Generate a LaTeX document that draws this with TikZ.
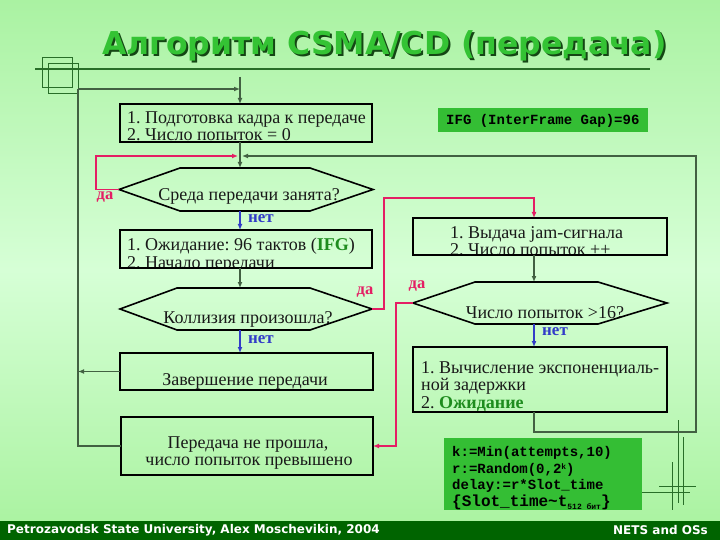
\documentclass[tikz,border=0pt]{standalone}
\usepackage{fontspec}
\setmainfont{Liberation Serif}
\setmonofont{Liberation Mono}
\newfontfamily\titlefont{DejaVu Sans}
\usetikzlibrary{arrows.meta,calc}
\definecolor{bgtop}{RGB}{170,242,162}
\definecolor{bgmid}{RGB}{214,255,214}
\definecolor{bgbot}{RGB}{168,242,158}
\definecolor{footg}{RGB}{0,100,0}
\definecolor{boxg}{RGB}{52,190,52}
\definecolor{connc}{RGB}{66,96,66}
\definecolor{redc}{RGB}{228,30,100}
\definecolor{bluec}{RGB}{50,60,200}
\definecolor{greent}{RGB}{30,140,30}
\definecolor{titleg}{RGB}{52,195,52}
\definecolor{shadowg}{RGB}{20,70,20}
\definecolor{decog}{RGB}{40,110,40}
\definecolor{txt}{RGB}{25,25,25}
\frenchspacing
\newcommand{\titletext}{Алгоритм CSMA/CD (передача)}
\begin{document}
\begin{tikzpicture}[x=1pt,y=-1pt,
  geom/.style={inner sep=0pt,outer sep=0pt,draw=none},
  boxline/.style={draw=black,line width=1.6pt},
  hexline/.style={draw=black,line width=1.6pt,line join=miter},
  conn/.style={draw=connc,line width=1.3pt},
  tip/.style={-{Latex[length=6pt,width=5pt]}},
  redln/.style={draw=redc,line width=1.6pt},
  blueln/.style={draw=bluec,line width=1.6pt},
  btxt/.style={inner sep=0pt,anchor=base west,text=txt,font=\fontsize{18}{20}\selectfont},
  ctxt/.style={inner sep=0pt,anchor=base,text=txt,font=\fontsize{18}{20}\selectfont},
  yeslbl/.style={inner sep=0pt,text=redc,font=\bfseries\fontsize{16.5}{18}\selectfont},
  nolbl/.style={inner sep=0pt,text=bluec,font=\bfseries\fontsize{17}{19}\selectfont},
  code/.style={inner sep=0pt,anchor=base west,text=black,font=\ttfamily\bfseries\fontsize{14}{16}\selectfont},
  deco/.style={draw=decog,line width=0.9pt}
]
\useasboundingbox (0,0) rectangle (720,540);
% background
\shade[top color=bgtop,bottom color=bgbot,middle color=bgmid] (0,0) rectangle (720,540);
% footer
\fill[footg] (0,521) rectangle (720,540);
\node[inner sep=0pt,anchor=west,text=white,font=\titlefont\bfseries\fontsize{12}{14}\selectfont] (fl) at (7,530.5) {Petrozavodsk State University, Alex Moschevikin, 2004};
\node[inner sep=0pt,anchor=east,text=white,font=\titlefont\bfseries\fontsize{12}{14}\selectfont] (fr) at (708,530.5) {NETS and OSs};
% title with shadow (single node)
\node[inner sep=0pt,anchor=base west,font=\titlefont\bfseries\fontsize{31.5}{36}\selectfont] (ttl) at (102,55)
  {\rlap{\hspace{2pt}\raisebox{-2pt}{\textcolor{shadowg}{\titletext}}}\textcolor{titleg}{\titletext}};
% title decorations
\draw[draw=decog,line width=2pt] (35,69) -- (650,69);
\draw[deco] (42,57) rectangle (72,87);
\draw[deco] (48,63) rectangle (78,93);
% bottom-right decorations
\draw[deco] (678,420) -- (678,503);
\draw[deco] (683,437) -- (683,505);
\draw[deco] (672,462) -- (672,510);
\draw[deco] (659,486) -- (696,486);
\draw[deco] (642,492) -- (690,492);

% box geometry
\node[geom,minimum width=252pt,minimum height=38pt] (b1) at (246,123) {};
\node[geom,minimum width=252pt,minimum height=38pt] (b2) at (246,249) {};
\node[geom,minimum width=254pt,minimum height=37pt] (b3) at (540,236.5) {};
\node[geom,minimum width=254pt,minimum height=65pt] (b4) at (540,379.5) {};
\node[geom,minimum width=253pt,minimum height=37pt] (b5) at (246.5,371.5) {};
\node[geom,minimum width=252pt,minimum height=58pt] (b6) at (247,446) {};
\node[geom,minimum width=254pt,minimum height=43pt] (h1) at (246,189.5) {};
\node[geom,minimum width=252pt,minimum height=42pt] (h2) at (246,309) {};
\node[geom,minimum width=254pt,minimum height=42pt] (h3) at (540,303) {};

% box texts (clipped)
\begin{scope}
\clip (b1.north west) rectangle (b1.south east);
\node[btxt] (t11) at (127,124) {1. Подготовка кадра к передаче};
\node[btxt] (t12) at (127,141) {2. Число попыток = 0};
\end{scope}
\begin{scope}
\clip (b2.north west) rectangle (b2.south east);
\node[btxt] (t21) at (127,250) {1. Ожидание: 96 тактов (\textcolor{greent}{\bfseries IFG})};
\node[btxt] (t22) at (127,268) {2. Начало передачи};
\end{scope}
\begin{scope}
\clip (b3.north west) rectangle (b3.south east);
\node[btxt] (t31) at (450,238) {1. Выдача jam-сигнала};
\node[btxt] (t32) at (450,255) {2. Число попыток ++};
\end{scope}
\node[btxt] (t41) at (421,373) {1. Вычисление экспоненциаль-};
\node[btxt] (t42) at (421,390) {ной задержки};
\node[btxt] (t43) at (421,408) {2. \textcolor{greent}{\bfseries Ожидание}};
\node[ctxt] (t51) at (245,385) {Завершение передачи};
\node[ctxt] (t61) at (248,448) {Передача не прошла,};
\node[ctxt] (t62) at (249,465) {число попыток превышено};
\node[ctxt] (th1) at (249,201) {Среда передачи занята?};
\node[ctxt] (th2) at (248,323) {Коллизия произошла?};
\node[ctxt] (th3) at (545,318) {Число попыток >16?};

% box borders
\foreach \b in {b1,b2,b3,b4,b5,b6}
  \draw[boxline] (\b.north west) rectangle (\b.south east);
% hexagons
\draw[hexline] (h1.west) -- ($(h1.north west)+(61,0)$) -- ($(h1.north east)+(-63,0)$) -- (h1.east) -- ($(h1.south east)+(-63,0)$) -- ($(h1.south west)+(61,0)$) -- cycle;
\draw[hexline] (h2.west) -- ($(h2.north west)+(57,0)$) -- ($(h2.north east)+(-62,0)$) -- (h2.east) -- ($(h2.south east)+(-62,0)$) -- ($(h2.south west)+(57,0)$) -- cycle;
\draw[hexline] (h3.west) -- ($(h3.north west)+(62,0)$) -- ($(h3.north east)+(-69,0)$) -- (h3.east) -- ($(h3.south east)+(-69,0)$) -- ($(h3.south west)+(62,0)$) -- cycle;

% green info boxes
\node[fill=boxg,inner sep=0pt,minimum width=210pt,minimum height=24pt] (ifg) at (543,120) {};
\node[code,anchor=west] (ifgt) at (446,120.5) {IFG (InterFrame Gap)=96};
\node[fill=boxg,inner sep=0pt,minimum width=198pt,minimum height=72pt] (cb) at (543,474) {};
\node[code] (c1) at (452,456) {k:=Min(attempts,10)};
\node[code] (c2) at (452,473) {r:=Random(0,2\raisebox{4pt}{\fontsize{8}{9}\selectfont k})};
\node[code] (c3) at (452,489) {delay:=r*Slot\_time};
\node[code,font=\ttfamily\bfseries\fontsize{16}{18}\selectfont] (c4) at (452,506) {\{Slot\_time\textasciitilde t\raisebox{-3.5pt}{\fontsize{8}{9}\selectfont 512 бит}\}};

% coordinates
\coordinate (lc) at (78,89);
\coordinate (tp) at (240,77);
\coordinate (j1) at (240,156);
\coordinate (rl) at (96,156);
\coordinate (rv) at (384,198);
\coordinate (lv) at (396,303);
\coordinate (gb) at (534,432);
\coordinate (gr) at (696,156);

% main loop connectors
\draw[conn] (b6.west) -| (lc);
\draw[conn,tip] (lc) -- (tp |- lc);
\draw[conn,tip] (tp) -- (tp |- b1.north);
\draw[conn,tip] (b5.west) -- (b5.west -| lc);
\draw[conn,tip] (b1.south -| tp) -- (h1.north -| tp);
\draw[conn,tip] (b2.south -| tp) -- (h2.north -| tp);
\draw[conn,tip] (b3.south -| gb) -- (h3.north -| gb);
\draw[conn,tip] (b4.south -| gb) -- (gb) -| (gr) -- ($(j1)+(2,0)$);

% yes/no branches
\draw[redln,tip] (h1.west) -- (h1.west -| rl) -- (rl) -- ($(j1)+(-2,0)$);
\node[yeslbl] (y1) at (105,197) {да};
\draw[blueln,tip] (h1.south -| tp) -- (b2.north -| tp);
\node[nolbl] (n1) at (261,219) {нет};
\draw[blueln,tip] (h2.south -| tp) -- (b5.north -| tp);
\node[nolbl] (n2) at (261,340) {нет};
\draw[redln,tip] (h2.east) -| (rv) -| (b3.north -| gb);
\node[yeslbl] (y2) at (365,292) {да};
\draw[redln,tip] (h3.west) -- (lv) |- (b6.east);
\node[yeslbl] (y3) at (417,286) {да};
\draw[blueln,tip] (h3.south -| gb) -- (b4.north -| gb);
\node[nolbl] (n3) at (555,332) {нет};
\end{tikzpicture}
\end{document}
